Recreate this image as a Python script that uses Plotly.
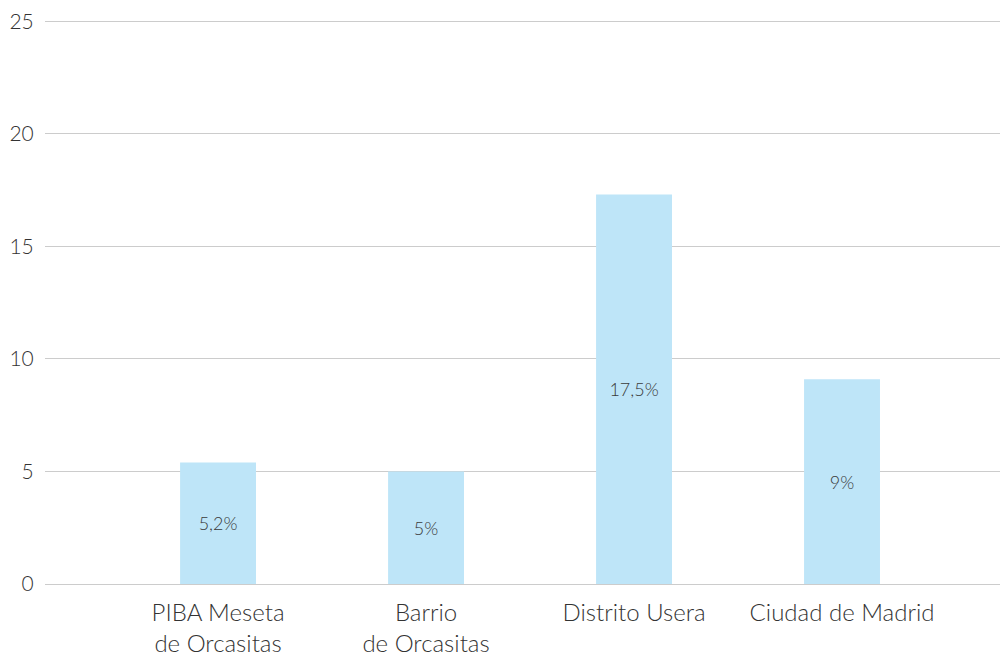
import plotly.graph_objects as go

categories = ["PIBA Meseta<br>de Orcasitas", "Barrio<br>de Orcasitas", "Distrito Usera", "Ciudad de Madrid"]
values = [5.4, 5.0, 17.3, 9.1]
labels = ["5,2%", "5%", "17,5%", "9%"]
y_ticks = [0, 5, 10, 15, 20, 25]

FONT = "Lato"

fig = go.Figure()
fig.add_trace(go.Bar(
    x=list(range(len(categories))),
    y=values,
    text=labels,
    textposition="inside",
    insidetextanchor="middle",
    textangle=0,
    textfont=dict(family=FONT, size=18, color="#3a3a3a", weight=300),
    marker=dict(color="#BEE5F8", line=dict(width=0)),
    width=0.365,
    hoverinfo="skip",
))

fig.update_layout(
    width=1000, height=649,
    margin=dict(l=37, r=0, t=8, b=67),
    paper_bgcolor="white", plot_bgcolor="white",
    showlegend=False,
    font=dict(family=FONT, size=24, color="#333333", weight=300),
    uniformtext=dict(minsize=10, mode="show"),
)
fig.update_xaxes(
    range=[-0.832, 3.798],
    tickmode="array",
    tickvals=list(range(len(categories))),
    ticktext=categories,
    showgrid=False, zeroline=False, showline=False,
    ticks="outside", ticklen=7, tickcolor="rgba(0,0,0,0)",
    tickfont=dict(family=FONT, size=24, color="#333333", weight=300),
)
fig.update_yaxes(
    range=[0, 25.1],
    tickmode="array",
    tickvals=y_ticks,
    ticktext=[str(v) for v in y_ticks],
    showgrid=True, gridcolor="#CCCCCC", gridwidth=1,
    zeroline=True, zerolinecolor="#CCCCCC", zerolinewidth=1,
    showline=False,
    ticks="outside", ticklen=6, tickcolor="rgba(0,0,0,0)",
    ticklabeloverflow="allow",
    tickfont=dict(family=FONT, size=21, color="#333333", weight=300),
)

fig.write_html("out.html")
